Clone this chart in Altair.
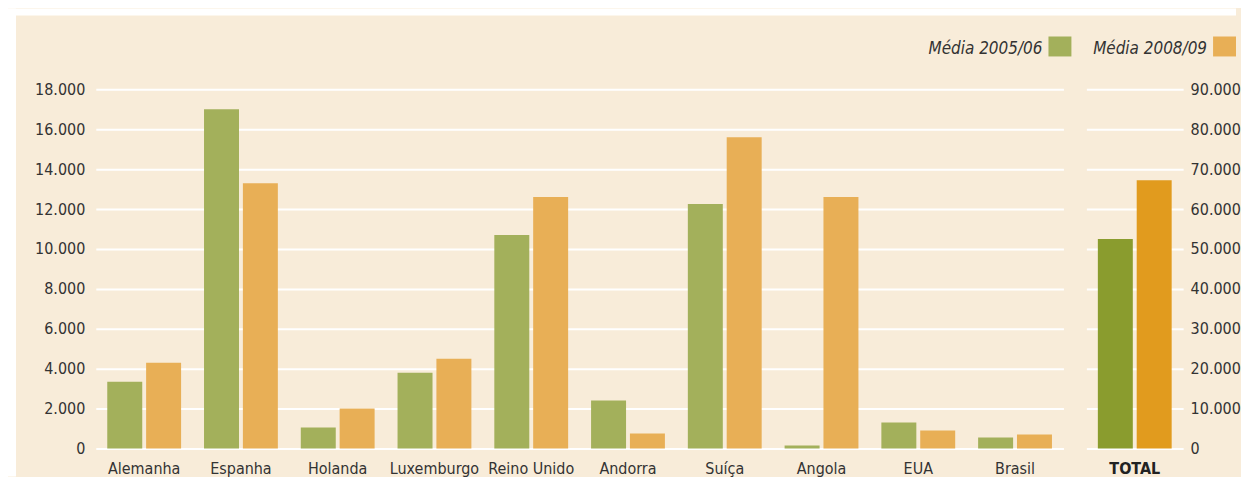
import altair as alt
import pandas as pd

# ---- data ----
countries = ["Alemanha", "Espanha", "Holanda", "Luxemburgo", "Reino Unido",
             "Andorra", "Suíça", "Angola", "EUA", "Brasil"]
periods = ["Média 2005/06", "Média 2008/09"]
media_2005_06 = [3350, 17000, 1050, 3800, 10700, 2400, 12250, 150, 1300, 550]
media_2008_09 = [4300, 13300, 2000, 4500, 12600, 750, 15600, 12600, 900, 700]
total_label = ["TOTAL"]
total_2005_06 = [52500]
total_2008_09 = [67250]
left_ticks = [0, 2000, 4000, 6000, 8000, 10000, 12000, 14000, 16000, 18000]
right_ticks = [0, 10000, 20000, 30000, 40000, 50000, 60000, 70000, 80000, 90000]
colors = ["#A3B05B", "#E8AF56"]
total_colors = ["#8A9C2E", "#E19B1E"]

BG = "#F8ECD9"
TXT = "#333333"
FONT = "Liberation Sans Narrow, DejaVu Sans Condensed, Arial Narrow, sans-serif"
FMT = "replace(format(datum.value, ','), ',', '.')"

df = pd.DataFrame({
    "Country": countries * 2,
    "Period": [periods[0]] * len(countries) + [periods[1]] * len(countries),
    "Value": media_2005_06 + media_2008_09,
})
df_total = pd.DataFrame({
    "Country": total_label * 2,
    "Period": periods,
    "Value": total_2005_06 + total_2008_09,
})
one = pd.DataFrame({"k": [0]})

band = alt.Scale(paddingInner=0.237, paddingOuter=0.1186)
offset = alt.Scale(paddingInner=0.1, paddingOuter=0)

bars = alt.Chart(df).mark_bar().encode(
    x=alt.X("Country:N", sort=countries, scale=band,
            axis=alt.Axis(title=None, labelAngle=0, domain=False, ticks=False,
                          labelPadding=12, labelFontSize=16, labelColor=TXT,
                          labelFont=FONT, grid=False)),
    xOffset=alt.XOffset("Period:N", sort=periods, scale=offset),
    y=alt.Y("Value:Q", scale=alt.Scale(domain=[0, 18000], nice=False),
            axis=alt.Axis(title=None, values=left_ticks, labelExpr=FMT,
                          domain=False, ticks=False, labelPadding=11,
                          grid=True, gridColor="white", gridWidth=2, gridOpacity=1,
                          labelFontSize=16, labelColor=TXT, labelFont=FONT)),
    color=alt.Color("Period:N", sort=periods,
                    scale=alt.Scale(domain=periods, range=colors), legend=None),
)

# white page strips (top / left) so the beige panel starts inset
strip_left = alt.Chart(one).mark_rect(color="white").encode(
    x=alt.value(-88), x2=alt.value(-80), y=alt.value(-81), y2=alt.value(388))
strip_top = alt.Chart(one).mark_rect(color="white").encode(
    x=alt.value(-88), x2=alt.value(1143), y=alt.value(-81), y2=alt.value(-74))

# custom legend (label then swatch)
leg_txt1 = alt.Chart(one).mark_text(align="right", baseline="alphabetic",
                                    fontStyle="italic", fontSize=17, font=FONT,
                                    color=TXT, text=periods[0]).encode(
    x=alt.value(949), y=alt.value(-35))
leg_sw1 = alt.Chart(one).mark_rect(color=colors[0]).encode(
    x=alt.value(955), x2=alt.value(978), y=alt.value(-53), y2=alt.value(-33))
leg_txt2 = alt.Chart(one).mark_text(align="right", baseline="alphabetic",
                                    fontStyle="italic", fontSize=17, font=FONT,
                                    color=TXT, text=periods[1]).encode(
    x=alt.value(1114), y=alt.value(-35))
leg_sw2 = alt.Chart(one).mark_rect(color=colors[1]).encode(
    x=alt.value(1120), x2=alt.value(1143), y=alt.value(-53), y2=alt.value(-33))

left = alt.layer(strip_left, strip_top, leg_txt1, leg_sw1, leg_txt2, leg_sw2, bars).properties(
    width=970, height=360)

right = alt.Chart(df_total).mark_bar().encode(
    x=alt.X("Country:N", sort=total_label, scale=band,
            axis=alt.Axis(title=None, labelAngle=0, domain=False, ticks=False,
                          labelPadding=12, labelFontSize=16, labelColor="#222222",
                          labelFontWeight="bold", labelFont=FONT, grid=False)),
    xOffset=alt.XOffset("Period:N", sort=periods, scale=offset),
    y=alt.Y("Value:Q", scale=alt.Scale(domain=[0, 90000], nice=False),
            axis=alt.Axis(title=None, orient="right", values=right_ticks, labelExpr=FMT,
                          domain=False, ticks=False, labelPadding=7,
                          grid=True, gridColor="white", gridWidth=2, gridOpacity=1,
                          labelFontSize=16, labelColor=TXT, labelFont=FONT)),
    color=alt.Color("Period:N", sort=periods,
                    scale=alt.Scale(domain=periods, range=total_colors), legend=None),
).properties(width=97, height=360)

chart = alt.hconcat(left, right, spacing=23, bounds="flush").resolve_scale(
    y="independent", x="independent", color="independent", xOffset="independent"
).properties(padding=0).configure(background=BG).configure_view(strokeWidth=0)

chart.save("out.html", embed_options={"renderer": "svg", "actions": False})
